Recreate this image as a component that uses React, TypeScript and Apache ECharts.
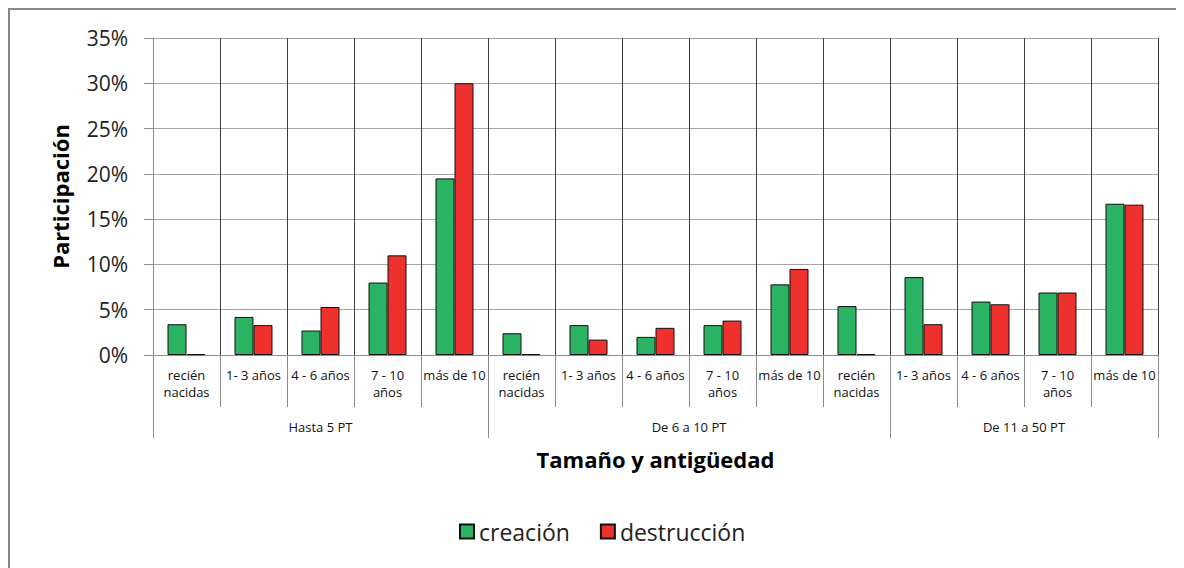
import React, { useEffect, useRef } from "react";
import * as echarts from "echarts";

const ageLabels = [
  "recién\nnacidas", "1- 3 años", "4 - 6 años", "7 - 10\naños", "más de 10",
  "recién\nnacidas", "1- 3 años", "4 - 6 años", "7 - 10\naños", "más de 10",
  "recién\nnacidas", "1- 3 años", "4 - 6 años", "7 - 10\naños", "más de 10",
];
const groupNames = ["Hasta 5 PT", "De 6 a 10 PT", "De 11 a 50 PT"];
const groupBounds = [0, 5, 11, 15];
const creacion = [3.4, 4.2, 2.7, 8.0, 19.5, 2.4, 3.3, 2.0, 3.3, 7.8, 5.4, 8.6, 5.9, 6.9, 16.7];
const destruccion = [0.1, 3.3, 5.3, 11.0, 30.0, 0.1, 1.7, 3.0, 3.8, 9.5, 0.1, 3.4, 5.6, 6.9, 16.6];
const yTicks = [0, 5, 10, 15, 20, 25, 30, 35];

const FONT = "'Open Sans', 'Noto Sans', sans-serif";

export default function App() {
  const ref = useRef<HTMLDivElement>(null);
  useEffect(() => {
    if (!ref.current) return;
    document.documentElement.style.overflow = "hidden";
    document.body.style.overflow = "hidden";
    const chart = echarts.init(ref.current, undefined, { renderer: "svg" });
    const groupCenters = groupNames.map((_, i) => (groupBounds[i] + groupBounds[i + 1]) / 2);
    chart.setOption({
      animation: false,
      textStyle: { fontFamily: FONT },
      grid: { left: 143, top: 28, width: 1005, height: 317 },
      legend: {
        left: 444,
        top: 505,
        icon: "rect",
        itemWidth: 14,
        itemHeight: 14,
        itemGap: 30,
        textStyle: { fontSize: 23, color: "#222", fontFamily: FONT },
        data: ["creación", "destrucción"],
      },
      xAxis: [
        {
          type: "category",
          data: ageLabels,
          name: "Tamaño y antigüedad",
          nameLocation: "middle",
          nameGap: 93,
          nameTextStyle: { fontSize: 22, fontWeight: "bold", color: "#000", fontFamily: FONT },
          axisLine: { lineStyle: { color: "#8c8c8c", width: 1 } },
          axisTick: { show: true, interval: 0, length: 52, lineStyle: { color: "#8c8c8c" } },
          axisLabel: {
            interval: 0,
            margin: 11,
            fontSize: 13,
            lineHeight: 17,
            color: "#111",
            fontFamily: FONT,
          },
          splitLine: { show: true, interval: 0, lineStyle: { color: "#3c3c3c", width: 1 } },
        },
        {
          type: "value",
          min: 0,
          max: 15,
          position: "bottom",
          axisLine: { show: false },
          splitLine: { show: false },
          axisTick: {
            show: true,
            customValues: groupBounds,
            length: 83,
            lineStyle: { color: "#8c8c8c" },
          },
          axisLabel: {
            show: true,
            customValues: groupCenters,
            margin: 65,
            fontSize: 13,
            color: "#111",
            fontFamily: FONT,
            formatter: (v: number) => {
              const i = groupCenters.findIndex((c) => Math.abs(c - v) < 1e-6);
              return i >= 0 ? groupNames[i] : "";
            },
          },
        },
      ],
      yAxis: {
        type: "value",
        min: 0,
        max: 35,
        interval: 5,
        name: "Participación",
        nameLocation: "middle",
        nameGap: 82,
        nameTextStyle: { fontSize: 22, fontWeight: "bold", color: "#000", fontFamily: FONT },
        axisLine: { show: true, lineStyle: { color: "#8c8c8c" } },
        axisTick: { show: true, length: 9, lineStyle: { color: "#8c8c8c" } },
        axisLabel: {
          margin: 25,
          fontSize: 21,
          color: "#222",
          fontFamily: FONT,
          customValues: yTicks,
          formatter: (v: number) => `${v}%`,
        },
        splitLine: { show: true, lineStyle: { color: "#a6a6a6", width: 1 } },
      },
      series: [
        {
          name: "creación",
          type: "bar",
          data: creacion,
          barWidth: 19,
          barGap: "0%",
          itemStyle: { color: "#2ab362", borderColor: "#111", borderWidth: 1 },
        },
        {
          name: "destrucción",
          type: "bar",
          data: destruccion,
          barWidth: 19,
          barGap: "0%",
          itemStyle: { color: "#ee312d", borderColor: "#111", borderWidth: 1 },
        },
      ],
    });
    return () => chart.dispose();
  }, []);
  return (
    <div
      style={{
        width: 1174,
        height: 558,
        borderLeft: "2px solid #878787",
        borderTop: "2px solid #878787",
        background: "#fff",
      }}
    >
      <div ref={ref} style={{ width: 1174, height: 558 }} />
    </div>
  );
}
